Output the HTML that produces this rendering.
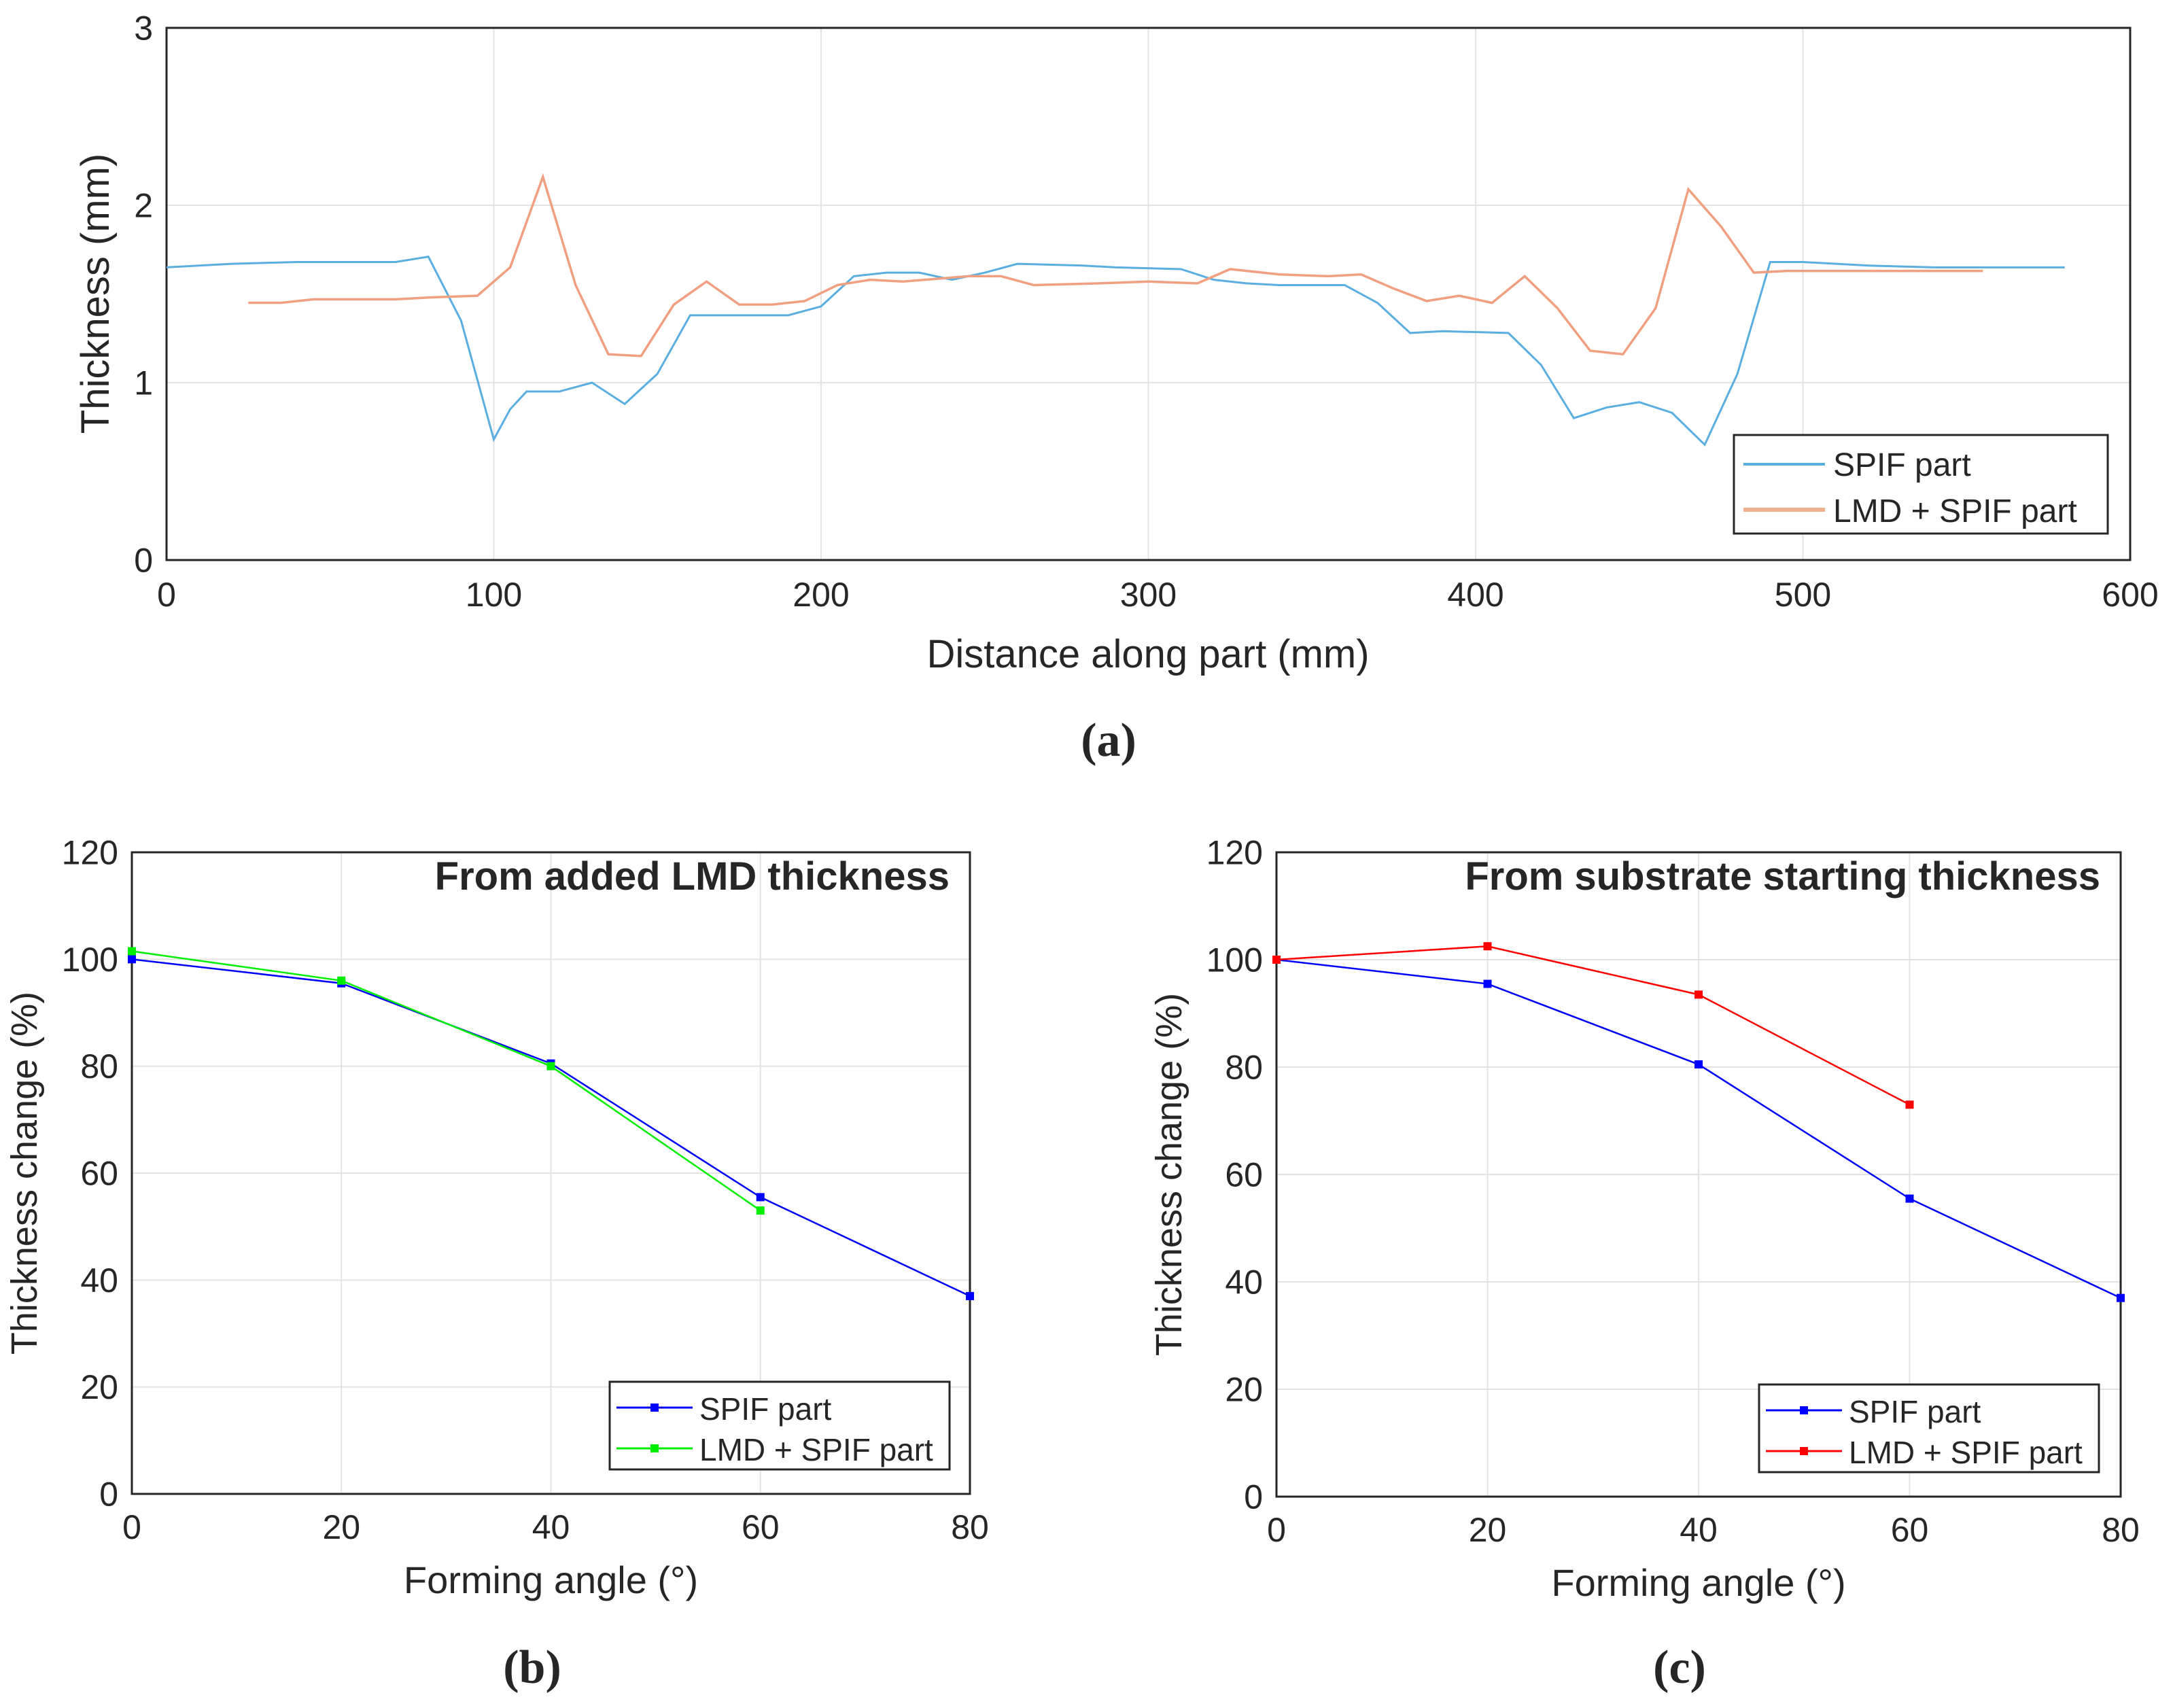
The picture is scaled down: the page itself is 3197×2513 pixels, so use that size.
<!DOCTYPE html>
<html><head><meta charset="utf-8"><style>
html,body{margin:0;padding:0;background:#fff}
svg{display:block}
text{font-family:"Liberation Sans",sans-serif;fill:#262626}
</style></head><body>
<svg id="s" width="3197" height="2513" viewBox="0 0 3197 2513" xmlns="http://www.w3.org/2000/svg"></svg>
<script>
// Panel (a) data
const aSpifX=[0,20,40,70,80,90,100,105,110,120,130,140,150,160,190,200,210,220,230,240,250,260,280,290,310,320,330,340,360,370,380,390,410,420,430,440,450,460,470,480,490,500,520,540,580];
const aSpifY=[1.65,1.67,1.68,1.68,1.71,1.35,0.68,0.85,0.95,0.95,1.0,0.88,1.05,1.38,1.38,1.43,1.6,1.62,1.62,1.58,1.62,1.67,1.66,1.65,1.64,1.58,1.56,1.55,1.55,1.45,1.28,1.29,1.28,1.1,0.8,0.86,0.89,0.83,0.65,1.05,1.68,1.68,1.66,1.65,1.65];
const aLmdX=[25,35,45,70,80,95,105,115,125,135,145,155,165,175,185,195,205,215,225,245,255,265,285,300,315,325,340,355,365,375,385,395,405,415,425,435,445,455,465,475,485,495,520,555];
const aLmdY=[1.45,1.45,1.47,1.47,1.48,1.49,1.65,2.16,1.55,1.16,1.15,1.44,1.57,1.44,1.44,1.46,1.55,1.58,1.57,1.6,1.6,1.55,1.56,1.57,1.56,1.64,1.61,1.6,1.61,1.53,1.46,1.49,1.45,1.6,1.42,1.18,1.16,1.42,2.09,1.88,1.62,1.63,1.63,1.63];
const aXTicks=[0,100,200,300,400,500,600];
const aYTicks=[0,1,2,3];
// Panels (b),(c) data
const angles=[0,20,40,60,80];
const bSpif=[100,95.5,80.5,55.5,37];
const bLmd=[101.5,96,80,53];
const cSpif=[100,95.5,80.5,55.5,37];
const cLmd=[100,102.5,93.5,73];
const bcYTicks=[0,20,40,60,80,100,120];

const svg=document.getElementById('s');
const NS='http://www.w3.org/2000/svg';
function el(tag,attrs,parent,txt){const e=document.createElementNS(NS,tag);for(const k in attrs)e.setAttribute(k,attrs[k]);if(txt!==undefined)e.textContent=txt;(parent||svg).appendChild(e);return e;}

function panel(o){
  const g=el('g',{});
  
  
  const sx=v=>o.x0+(v-o.xmin)/(o.xmax-o.xmin)*(o.x1-o.x0);
  const sy=v=>o.y1-(v-o.ymin)/(o.ymax-o.ymin)*(o.y1-o.y0);
  el('rect',{x:o.x0,y:o.y0,width:o.x1-o.x0,height:o.y1-o.y0,fill:'#fff'},g);
  o.xt.forEach(t=>{const X=sx(t);
    const l=el('line',{x1:X,x2:X,y1:o.y0,y2:o.y1,stroke:'#e3e3e3','stroke-width':2},g);
    
    const tx=el('text',{x:X,y:o.y1+o.tickGap,'text-anchor':'middle','font-size':o.fs},g,String(t));
    });
  o.yt.forEach(t=>{const Y=sy(t);
    const l=el('line',{x1:o.x0,x2:o.x1,y1:Y,y2:Y,stroke:'#e3e3e3','stroke-width':2},g);
    
    const tx=el('text',{x:o.x0-20,y:Y+o.fs*0.35,'text-anchor':'end','font-size':o.fs},g,String(t));
    });
  el('rect',{x:o.x0,y:o.y0,width:o.x1-o.x0,height:o.y1-o.y0,fill:'none',stroke:'#262626','stroke-width':3},g);
  o.series.forEach(s=>{
    const pts=s.y.map((v,i)=>sx(s.x[i])+','+sy(v)).join(' ');
    const p=el('polyline',{points:pts,fill:'none',stroke:s.color,'stroke-width':s.w},g);
    
    if(s.marker){s.y.forEach((v,i)=>{const m=el('rect',{x:sx(s.x[i])-6,y:sy(v)-6,width:12,height:12,fill:s.marker},g);
      });}
  });
  return {g,sx,sy};
}

// Panel (a)
const A=panel({name:'thickness-chart',x0:245,x1:3134,y0:41,y1:824,xmin:0,xmax:600,ymin:0,ymax:3,xt:aXTicks,yt:aYTicks,fs:50,tickGap:68,
 series:[{name:'spif-line',x:aSpifX,y:aSpifY,color:'#5aaee0',w:3},{name:'lmd-spif-line',x:aLmdX,y:aLmdY,color:'#f0a080',w:3.5}]});
let t=el('text',{x:1689,y:982,'text-anchor':'middle','font-size':58},A.g,'Distance along part (mm)');

t=el('text',{x:160,y:432,'text-anchor':'middle','font-size':58,transform:'rotate(-90 160 432)'},A.g,'Thickness (mm)');

let lg=el('g',{},A.g);
el('rect',{x:2551,y:640,width:550,height:145,fill:'#fff',stroke:'#262626','stroke-width':3},lg);
el('line',{x1:2565,x2:2685,y1:683,y2:683,stroke:'#5aaee0','stroke-width':4},lg);
el('text',{x:2697,y:700,'font-size':48},lg,'SPIF part');
el('line',{x1:2565,x2:2685,y1:750,y2:750,stroke:'#f0b090','stroke-width':6},lg);
el('text',{x:2697,y:768,'font-size':48},lg,'LMD + SPIF part');
t=el('text',{x:1631,y:1112,'text-anchor':'middle','font-size':70,'font-weight':'bold',style:'font-family:"Liberation Serif",serif'},null,'(a)');


function bc(name,x0,x1,y0,y1,spif,lmd,lmdColor,title,legY,legX,cap,capX){
  const P=panel({name:name,x0,x1,y0,y1,xmin:0,xmax:80,ymin:0,ymax:120,xt:angles,yt:bcYTicks,fs:50,tickGap:66,
   series:[{name:'spif-line',x:angles,y:spif,color:'#0000ff',w:2.5,marker:'#0000ff'},{name:'lmd-spif-line',x:angles.slice(0,lmd.length),y:lmd,color:lmdColor,w:2.5,marker:lmdColor}]});
  let t=el('text',{x:x1-30,y:y0+55,'text-anchor':'end','font-size':58,'font-weight':'bold'},P.g,title);
  
  t=el('text',{x:(x0+x1)/2,y:y1+146,'text-anchor':'middle','font-size':56},P.g,'Forming angle (°)');
  
  const cx=x0-140,cy=(y0+y1)/2;
  t=el('text',{x:cx,y:cy,'text-anchor':'middle','font-size':54,transform:`rotate(-90 ${cx} ${cy})`},P.g,'Thickness change (%)');
  
  let lg=el('g',{},P.g);
  el('rect',{x:legX,y:legY,width:500,height:129,fill:'#fff',stroke:'#262626','stroke-width':3},lg);
  el('line',{x1:legX+10,x2:legX+122,y1:legY+38,y2:legY+38,stroke:'#0000ff','stroke-width':3},lg);
  el('rect',{x:legX+60,y:legY+32,width:12,height:12,fill:'#0000ff'},lg);
  el('text',{x:legX+132,y:legY+56,'font-size':46},lg,'SPIF part');
  el('line',{x1:legX+10,x2:legX+122,y1:legY+98,y2:legY+98,stroke:lmdColor,'stroke-width':3},lg);
  el('rect',{x:legX+60,y:legY+92,width:12,height:12,fill:lmdColor},lg);
  el('text',{x:legX+132,y:legY+116,'font-size':46},lg,'LMD + SPIF part');
  t=el('text',{x:capX,y:2476,'text-anchor':'middle','font-size':70,'font-weight':'bold',style:'font-family:"Liberation Serif",serif'},null,cap);
  
}
bc('thickness-change-lmd-chart',194,1427,1254,2198,bSpif,bLmd,'#00ee00','From added LMD thickness',2033,897,'(b)',783);
bc('thickness-change-substrate-chart',1878,3120,1254,2202,cSpif,cLmd,'#ff0000','From substrate starting thickness',2037,2588,'(c)',2471);
</script>
</body></html>
